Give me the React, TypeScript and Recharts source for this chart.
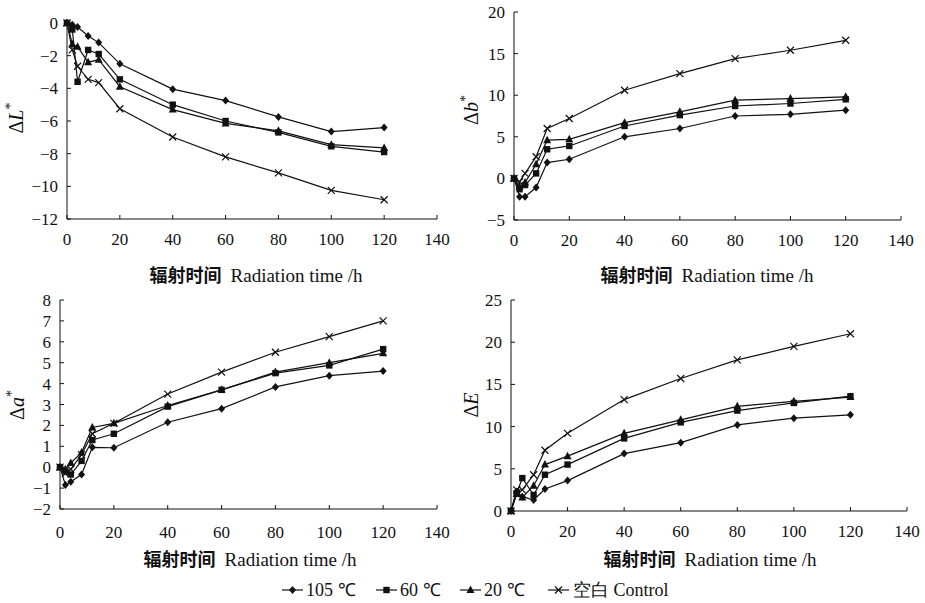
import React from 'react'
import { LineChart, Line, XAxis, YAxis } from 'recharts'

const hours = [0, 2, 4, 8, 12, 20, 40, 60, 80, 100, 120]
const xTicks = [0, 20, 40, 60, 80, 100, 120, 140]
const seriesNames = ['105 ℃', '60 ℃', '20 ℃', '空白 Control']

// ΔL*
const dL105 = [0, -0.1, -0.25, -0.8, -1.2, -2.5, -4.05, -4.75, -5.75, -6.65, -6.4]
const dL60 = [0, -0.4, -3.6, -1.65, -1.9, -3.45, -5.0, -6.0, -6.7, -7.55, -7.9]
const dL20 = [0, -1.3, -1.45, -2.4, -2.25, -3.9, -5.3, -6.15, -6.6, -7.45, -7.65]
const dLCtrl = [0, -1.65, -2.65, -3.45, -3.65, -5.25, -6.98, -8.2, -9.18, -10.25, -10.82]

// Δb*
const db105 = [0, -2.2, -2.2, -1.1, 1.9, 2.3, 5.0, 6.0, 7.5, 7.7, 8.2]
const db60 = [0, -1.3, -0.8, 0.6, 3.5, 3.9, 6.3, 7.6, 8.7, 9.0, 9.5]
const db20 = [0, -1.0, -0.5, 1.7, 4.6, 4.7, 6.7, 8.0, 9.4, 9.6, 9.8]
const dbCtrl = [0, -0.4, 0.6, 2.6, 6.0, 7.2, 10.6, 12.6, 14.4, 15.4, 16.6]

// Δa*
const da105 = [0, -0.85, -0.7, -0.35, 0.95, 0.93, 2.15, 2.8, 3.84, 4.38, 4.6]
const da60 = [0, -0.2, -0.35, 0.3, 1.3, 1.6, 2.9, 3.7, 4.5, 4.87, 5.65]
const da20 = [0, -0.1, 0.2, 0.7, 1.9, 2.1, 2.95, 3.7, 4.55, 5.0, 5.45]
const daCtrl = [0, -0.3, -0.1, 0.6, 1.6, 2.1, 3.5, 4.55, 5.5, 6.25, 7.0]

// ΔE
const dE105 = [0, 2.3, 1.7, 1.3, 2.6, 3.6, 6.8, 8.1, 10.2, 11.0, 11.4]
const dE60 = [0, 2.1, 3.9, 1.9, 4.3, 5.5, 8.6, 10.5, 11.9, 12.8, 13.6]
const dE20 = [0, 2.0, 1.6, 3.0, 5.5, 6.5, 9.2, 10.8, 12.4, 13.0, 13.5]
const dECtrl = [0, 2.5, 2.5, 4.3, 7.2, 9.2, 13.2, 15.7, 17.9, 19.5, 21.0]

const toRows = (a: number[], b: number[], c: number[], d: number[]) =>
  hours.map((h, i) => ({ h, s105: a[i], s60: b[i], s20: c[i], ctrl: d[i] }))

const SERIF = '"Liberation Serif", "Times New Roman", serif'
const CJK = '"Noto Sans CJK SC", sans-serif'
const INK = '#111'

const diamondDot = (p: any) => (
  <path key={`d${p.index}`} d={`M${p.cx},${p.cy - 4}L${p.cx + 3.5},${p.cy}L${p.cx},${p.cy + 4}L${p.cx - 3.5},${p.cy}Z`} fill={INK} />
)
const squareDot = (p: any) => (
  <rect key={`s${p.index}`} x={p.cx - 3.2} y={p.cy - 3.2} width={6.4} height={6.4} fill={INK} />
)
const triangleDot = (p: any) => (
  <path key={`t${p.index}`} d={`M${p.cx},${p.cy - 4.5}L${p.cx + 4},${p.cy + 3}L${p.cx - 4},${p.cy + 3}Z`} fill={INK} />
)
const crossDot = (p: any) => (
  <path key={`c${p.index}`} d={`M${p.cx - 3.5},${p.cy - 3.5}L${p.cx + 3.5},${p.cy + 3.5}M${p.cx + 3.5},${p.cy - 3.5}L${p.cx - 3.5},${p.cy + 3.5}`} stroke={INK} strokeWidth={1.2} />
)

const fmt = (v: number) => (v < 0 ? '\u2212' + Math.abs(v) : String(v))

const XTick = (props: any) => {
  const { x, y, payload, labelDy } = props
  return (
    <g>
      <line x1={x} y1={y} x2={x} y2={y - 4} stroke={INK} />
      <text x={x} y={y + labelDy} textAnchor="middle" fontFamily={SERIF} fontSize={17} fill={INK}>
        {payload.value}
      </text>
    </g>
  )
}

const YTick = (props: any) => {
  const { x, y, payload } = props
  return (
    <g>
      <line x1={x} y1={y} x2={x + 4} y2={y} stroke={INK} />
      <text x={x - 9} y={y + 6} textAnchor="end" fontFamily={SERIF} fontSize={17} fill={INK}>
        {fmt(payload.value)}
      </text>
    </g>
  )
}

const XTitle = (props: any) => (
  <text x={props.tx} y={props.ty} textAnchor="middle" fill={INK}>
    <tspan fontFamily={CJK} fontWeight={700} fontSize={18}>辐射时间</tspan>
    <tspan fontFamily={SERIF} fontSize={19} dx={9}>Radiation time /h</tspan>
  </text>
)

const YTitle = (props: any) => (
  <text x={props.tx} y={props.ty} textAnchor="middle" fill={INK} fontFamily={SERIF} fontSize={20}
    transform={`rotate(-90, ${props.tx}, ${props.ty})`}>
    <tspan>Δ</tspan>
    <tspan fontStyle="italic">{props.sym}</tspan>
    {props.star ? <tspan fontSize={14} dy={-8}>*</tspan> : null}
  </text>
)

type PanelProps = {
  plotLeft: number
  plotTop: number
  plotW: number
  plotH: number
  data: any[]
  yDomain: [number, number]
  yTicks: number[]
  sym: string
  star: boolean
  yLabelX: number
  yLabelY: number
  tickBase: number
  titleX: number
  titleBase: number
}

function Panel(p: PanelProps) {
  const YW = 80
  const MT = 10
  const MR = 20
  const XH = 70
  const left = p.plotLeft - YW
  const top = p.plotTop - MT
  const width = YW + p.plotW + MR
  const height = MT + p.plotH + XH
  const axisY = p.plotTop + p.plotH
  return (
    <div style={{ position: 'absolute', left, top }}>
      <LineChart width={width} height={height} data={p.data} margin={{ top: MT, right: MR, bottom: 0, left: 0 }}>
        <XAxis
          type="number"
          dataKey="h"
          domain={[0, 140]}
          ticks={xTicks}
          interval={0}
          height={XH}
          tickSize={0}
          tickMargin={0}
          axisLine={{ stroke: INK }}
          tick={<XTick labelDy={p.tickBase - axisY} />}
          label={<XTitle tx={p.titleX - left} ty={p.titleBase - top} />}
        />
        <YAxis
          type="number"
          domain={p.yDomain}
          ticks={p.yTicks}
          interval={0}
          width={YW}
          tickSize={0}
          tickMargin={0}
          axisLine={{ stroke: INK }}
          tick={<YTick />}
          label={<YTitle tx={p.yLabelX - left} ty={p.yLabelY - top} sym={p.sym} star={p.star} />}
        />
        <Line type="linear" dataKey="s105" name={seriesNames[0]} stroke={INK} strokeWidth={1.2} dot={diamondDot} isAnimationActive={false} />
        <Line type="linear" dataKey="s60" name={seriesNames[1]} stroke={INK} strokeWidth={1.2} dot={squareDot} isAnimationActive={false} />
        <Line type="linear" dataKey="s20" name={seriesNames[2]} stroke={INK} strokeWidth={1.2} dot={triangleDot} isAnimationActive={false} />
        <Line type="linear" dataKey="ctrl" name={seriesNames[3]} stroke={INK} strokeWidth={1.2} dot={crossDot} isAnimationActive={false} />
      </LineChart>
    </div>
  )
}

function LegendRow() {
  const y = 590
  const items = [
    { x: 282, textX: 306, shape: 'diamond' },
    { x: 376, textX: 400, shape: 'square' },
    { x: 460, textX: 484, shape: 'triangle' },
    { x: 548, textX: 573, shape: 'cross' },
  ]
  return (
    <svg width={925} height={30} style={{ position: 'absolute', left: 0, top: y - 15 }}>
      {items.map((it, i) => {
        const cx = it.x + 10.5
        const cy = 15
        let mark: React.ReactNode = null
        if (it.shape === 'diamond') mark = diamondDot({ cx, cy, index: i })
        if (it.shape === 'square') mark = squareDot({ cx, cy, index: i })
        if (it.shape === 'triangle') mark = triangleDot({ cx, cy, index: i })
        if (it.shape === 'cross') mark = crossDot({ cx, cy, index: i })
        return (
          <g key={i}>
            <line x1={it.x} y1={cy} x2={it.x + 21} y2={cy} stroke={INK} strokeWidth={1.2} />
            {mark}
            <text x={it.textX} y={cy + 6} fontFamily={SERIF} fontSize={18} fill={INK}>
              {seriesNames[i]}
            </text>
          </g>
        )
      })}
    </svg>
  )
}

export default function App() {
  return (
    <div style={{ position: 'absolute', left: 0, top: 0, width: 925, height: 603, background: '#fff', overflow: 'hidden' }}>
      <Panel plotLeft={67} plotTop={23} plotW={370} plotH={196} data={toRows(dL105, dL60, dL20, dLCtrl)}
        yDomain={[-12, 0]} yTicks={[-12, -10, -8, -6, -4, -2, 0]} sym="L" star
        yLabelX={23} yLabelY={118} tickBase={245} titleX={256} titleBase={282} />
      <Panel plotLeft={514} plotTop={12} plotW={387} plotH={208} data={toRows(db105, db60, db20, dbCtrl)}
        yDomain={[-5, 20]} yTicks={[-5, 0, 5, 10, 15, 20]} sym="b" star
        yLabelX={478} yLabelY={110} tickBase={246} titleX={707} titleBase={282} />
      <Panel plotLeft={60} plotTop={300} plotW={377} plotH={209} data={toRows(da105, da60, da20, daCtrl)}
        yDomain={[-2, 8]} yTicks={[-2, -1, 0, 1, 2, 3, 4, 5, 6, 7, 8]} sym="a" star
        yLabelX={24} yLabelY={405} tickBase={538} titleX={250} titleBase={566} />
      <Panel plotLeft={511} plotTop={300} plotW={396} plotH={211} data={toRows(dE105, dE60, dE20, dECtrl)}
        yDomain={[0, 25]} yTicks={[0, 5, 10, 15, 20, 25]} sym="E" star={false}
        yLabelX={478} yLabelY={405} tickBase={537} titleX={710} titleBase={566} />
      <LegendRow />
    </div>
  )
}
